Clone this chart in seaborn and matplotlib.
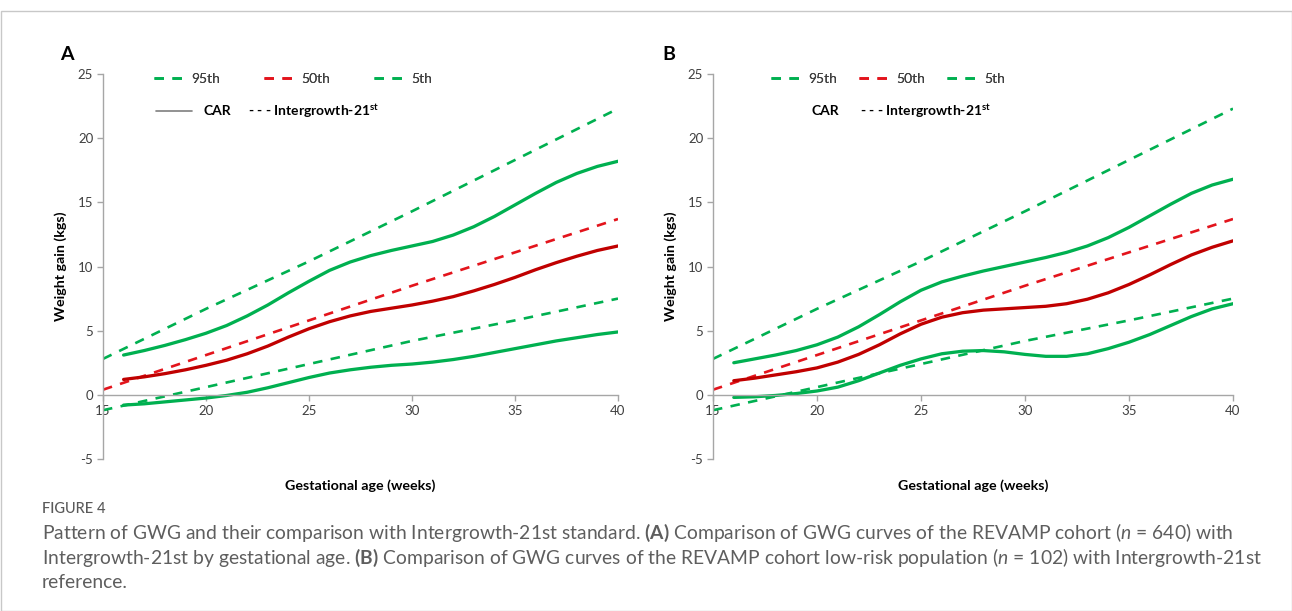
import numpy as np
import pandas as pd
import matplotlib
matplotlib.use("Agg")
import matplotlib.pyplot as plt
import seaborn as sns
from matplotlib.lines import Line2D
from matplotlib.patches import Rectangle

# ---------------- data ----------------
weeks = list(range(16, 41))
ig_weeks = [15, 20, 25, 30, 35, 40]

# Intergrowth-21st reference (same in both panels)
ig_p95 = [2.8, 6.7, 10.4, 14.3, 18.3, 22.3]
ig_p50 = [0.4, 3.1, 5.8, 8.5, 11.1, 13.7]
ig_p5 = [-1.2, 0.6, 2.4, 4.2, 5.8, 7.5]

# Panel A: REVAMP cohort (CAR)
a_p95 = [3.1, 3.45, 3.85, 4.3, 4.8, 5.4, 6.15, 7.0, 7.95, 8.85, 9.7, 10.35, 10.85, 11.25,
         11.6, 11.95, 12.45, 13.1, 13.9, 14.8, 15.7, 16.55, 17.25, 17.8, 18.2]
a_p50 = [1.2, 1.4, 1.65, 1.95, 2.3, 2.7, 3.2, 3.8, 4.5, 5.15, 5.7, 6.15, 6.5, 6.75,
         7.0, 7.3, 7.65, 8.1, 8.6, 9.15, 9.75, 10.3, 10.8, 11.25, 11.6]
a_p5 = [-0.8, -0.7, -0.55, -0.4, -0.25, -0.05, 0.2, 0.55, 0.95, 1.35, 1.7, 1.95, 2.15, 2.3,
        2.4, 2.55, 2.75, 3.0, 3.3, 3.6, 3.9, 4.2, 4.45, 4.7, 4.9]

# Panel B: low-risk population
b_p95 = [2.5, 2.8, 3.1, 3.45, 3.9, 4.5, 5.3, 6.25, 7.25, 8.15, 8.8, 9.25, 9.65, 10.0,
         10.35, 10.7, 11.1, 11.6, 12.25, 13.05, 13.95, 14.85, 15.7, 16.35, 16.8]
b_p50 = [1.1, 1.3, 1.55, 1.8, 2.1, 2.55, 3.15, 3.9, 4.75, 5.5, 6.05, 6.4, 6.6, 6.7,
         6.8, 6.9, 7.1, 7.45, 7.95, 8.6, 9.35, 10.15, 10.9, 11.5, 12.0]
b_p5 = [-0.2, -0.15, -0.05, 0.1, 0.3, 0.6, 1.1, 1.7, 2.3, 2.8, 3.2, 3.4, 3.45, 3.35,
        3.15, 3.0, 3.0, 3.2, 3.6, 4.1, 4.7, 5.4, 6.1, 6.7, 7.1]

x_ticks = [15, 20, 25, 30, 35, 40]
y_ticks = [-5, 0, 5, 10, 15, 20, 25]
panel_labels = ["A", "B"]
legend_pct = ["95th", "50th", "5th"]
legend_car = "CAR"
legend_ig = "- - - Intergrowth-21$^{\\bf{st}}$"
xlabel = "Gestational age (weeks)"
ylabel = "Weight gain (kgs)"
caption_title = "FIGURE 4"
caption_lines = [
    "Pattern of GWG and their comparison with Intergrowth-21st standard. $\\bf{(A)}$ Comparison of GWG curves of the REVAMP cohort ($n$ = 640) with",
    "Intergrowth-21st by gestational age. $\\bf{(B)}$ Comparison of GWG curves of the REVAMP cohort low-risk population ($n$ = 102) with Intergrowth-21st",
    "reference.",
]

# ---------------- style ----------------
sns.set_theme(style="white")
plt.rcParams["font.family"] = ["Lato", "DejaVu Sans"]
plt.rcParams["mathtext.fontset"] = "custom"
plt.rcParams["mathtext.rm"] = "Lato"
plt.rcParams["mathtext.bf"] = "Lato:bold"
plt.rcParams["mathtext.it"] = "Lato:italic"
plt.rcParams["axes.unicode_minus"] = False

GREEN = "#00B050"
RED_SOLID = "#C00000"
RED_DASH = "#E3141C"
GRAY = "#A6A6A6"
TXT = "#404040"

fig = plt.figure(figsize=(12.92, 6.11), dpi=100)

axA = fig.add_axes([103 / 1292, 1 - 459 / 611, 515 / 1292, 385 / 611])
axB = fig.add_axes([713 / 1292, 1 - 459 / 611, 520 / 1292, 385 / 611])

panels = [
    (axA, a_p95, a_p50, a_p5, True),
    (axB, b_p95, b_p50, b_p5, False),
]

dash = (3.6, 3.2)
for i, (ax, p95, p50, p5, car_line) in enumerate(panels):
    # Intergrowth dashed
    for vals, col in [(ig_p95, GREEN), (ig_p50, RED_DASH), (ig_p5, GREEN)]:
        sns.lineplot(x=ig_weeks, y=vals, ax=ax, color=col, lw=1.9,
                     linestyle=(0, dash))
    # CAR solid
    for vals, col in [(p95, GREEN), (p50, RED_SOLID), (p5, GREEN)]:
        sns.lineplot(x=weeks, y=vals, ax=ax, color=col, lw=2.35,
                     solid_joinstyle="round", solid_capstyle="round")

    ax.set_xlim(15, 40)
    ax.set_ylim(-5, 25)
    ax.set_xticks(x_ticks)
    ax.set_yticks(y_ticks)
    for s in ["top", "right"]:
        ax.spines[s].set_visible(False)
    ax.spines["bottom"].set_position(("data", 0))
    for s in ["left", "bottom"]:
        ax.spines[s].set_color(GRAY)
        ax.spines[s].set_linewidth(1.0)
    ax.tick_params(axis="both", which="both", direction="out", length=4,
                   width=1.0, color=GRAY, labelcolor=TXT, labelsize=9.5,
                   left=True, bottom=True, pad=3)
    ax.set_xlabel("")
    ax.set_ylabel(ylabel, fontsize=10.3, fontweight="bold", color="black", labelpad=8)
    ax.text(0.5, -0.07, xlabel, transform=ax.transAxes, ha="center", va="center",
            fontsize=10.3, fontweight="bold", color="black")
    ax.grid(False)

    # legend row 1
    h1 = [Line2D([], [], color=c, lw=1.9, linestyle=(0, dash))
          for c in [GREEN, RED_DASH, GREEN]]
    if i == 0:
        leg1 = ax.legend(h1, legend_pct, loc="upper left", bbox_to_anchor=(0.09, 1.014),
                         ncol=3, frameon=False, fontsize=10, handlelength=2.5,
                         handletextpad=0.2, columnspacing=3.15, labelcolor=TXT,
                         borderaxespad=0, borderpad=0.3)
    else:
        leg1 = ax.legend(h1, legend_pct, loc="upper left", bbox_to_anchor=(0.103, 1.014),
                         ncol=3, frameon=False, fontsize=10, handlelength=2.5,
                         handletextpad=0.2, columnspacing=1.55, labelcolor=TXT,
                         borderaxespad=0, borderpad=0.3)
    ax.add_artist(leg1)

    # legend row 2: CAR (solid key) and Intergrowth text
    y_row2 = 1 - (111 - 74) / 385
    if car_line:
        x0 = (156 - 103) / 515
        ax.plot([x0, x0 + 36 / 515], [y_row2, y_row2], transform=ax.transAxes,
                color="#7F7F7F", lw=1.2, clip_on=False)
        ax.text((203 - 103) / 515, y_row2, legend_car, transform=ax.transAxes,
                fontsize=10, fontweight="bold", color="black", va="center", ha="left")
        ax.text((248 - 103) / 515, y_row2, legend_ig, transform=ax.transAxes,
                fontsize=10, fontweight="bold", color="black", va="center", ha="left")
    else:
        ax.text((811 - 713) / 520, y_row2, legend_car, transform=ax.transAxes,
                fontsize=10, fontweight="bold", color="black", va="center", ha="left")
        ax.text((860 - 713) / 520, y_row2, legend_ig, transform=ax.transAxes,
                fontsize=10, fontweight="bold", color="black", va="center", ha="left")

    fig.text((60 if i == 0 else 662) / 1292, 1 - 54 / 611, panel_labels[i],
             fontsize=14, fontweight="bold", color="black", va="center", ha="left")

# caption
fig.text(42 / 1292, 1 - 509 / 611, caption_title, fontsize=10.5, color="#5a5a5a",
         fontweight="medium", va="center")
for k, line in enumerate(caption_lines):
    fig.text(42 / 1292, 1 - (533 + 25 * k) / 611, line, fontsize=13.85, color="#5e5e5e",
             va="center")

# frame
fig.add_artist(Rectangle((0.5 / 1292, 0), 1 - 1 / 1292, 1 - 10.5 / 611,
                         transform=fig.transFigure, fill=False,
                         edgecolor="#C8C8C8", lw=1.0))

fig.savefig("out.png", dpi=100)
